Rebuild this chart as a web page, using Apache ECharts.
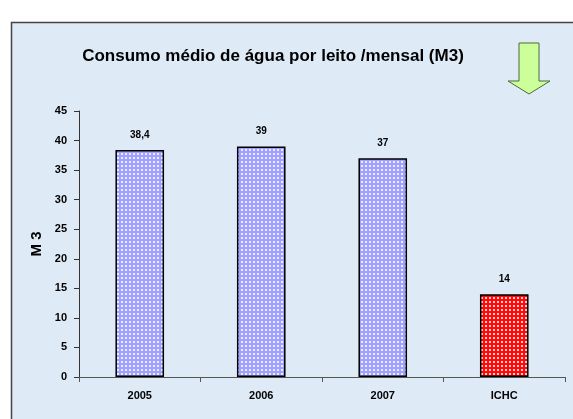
<!DOCTYPE html>
<html>
<head>
<meta charset="UTF-8">
<title>Consumo médio de água</title>
<script src="https://cdn.jsdelivr.net/npm/echarts@6/dist/echarts.min.js"></script>
<style>
  html, body { margin: 0; padding: 0; background: #fff; }
  #chart { width: 573px; height: 419px; }
</style>
</head>
<body>
<div id="chart"></div>
<script>
var categories = ['2005', '2006', '2007', 'ICHC'];
var values = [38.4, 39, 37, 14];
var barColors = ['#a0a0ff', '#a0a0ff', '#a0a0ff', '#ff0a0a'];
var yTicks = { min: 0, max: 45, interval: 5 };

// dotted fill like the old excel pattern
function dots(base) {
    var c = document.createElement('canvas');
    c.width = 4; c.height = 4;
    var g = c.getContext('2d');
    g.fillStyle = base;
    g.fillRect(0, 0, 4, 4);
    g.fillStyle = 'rgba(255,255,255,0.8)';
    g.fillRect(1, 1, 2, 2);
    return { image: c, repeat: 'repeat' };
}

var chart = echarts.init(document.getElementById('chart'), null, { renderer: 'canvas' });

chart.setOption({
    animation: false,
    backgroundColor: '#ffffff',
    title: {
        text: 'Consumo médio de água por leito /mensal (M3)',
        left: 268,
        textAlign: 'center',
        top: 43,
        textStyle: { fontFamily: 'Liberation Sans, sans-serif', fontWeight: 'bold', fontSize: 17, color: '#000' }
    },
    graphic: [
        {
            type: 'rect', z: -10, silent: true,
            shape: { x: 11.5, y: 22.5, width: 600, height: 420 },
            style: { fill: '#dfeaf7', stroke: '#444', lineWidth: 1.5 }
        },
        {
            type: 'polygon', z: 10, silent: true,
            shape: { points: [[519, 43], [539, 43], [539, 81], [550, 81], [529, 94], [508, 81], [519, 81]] },
            style: { fill: '#ccff99', stroke: '#4a6a3a', lineWidth: 1 }
        }
    ],
    grid: { left: 79, right: 8, top: 111, bottom: 42 },
    xAxis: {
        type: 'category',
        data: categories,
        axisLine: { lineStyle: { color: '#555', width: 1 } },
        axisTick: { show: true, length: 5, lineStyle: { color: '#555' } },
        axisLabel: {
            margin: 13,
            fontFamily: 'Liberation Sans', fontWeight: 'bold', fontSize: 11, color: '#000'
        }
    },
    yAxis: {
        type: 'value',
        min: yTicks.min, max: yTicks.max, interval: yTicks.interval,
        name: 'M 3',
        nameLocation: 'middle',
        nameRotate: 90,
        nameGap: 33,
        nameTextStyle: { fontFamily: 'Liberation Sans', fontWeight: 'bold', fontSize: 15, color: '#000' },
        axisLine: { show: true, lineStyle: { color: '#333', width: 1 } },
        axisTick: { show: true, length: 5, lineStyle: { color: '#333' } },
        splitLine: { show: false },
        axisLabel: {
            margin: 12,
            fontFamily: 'Liberation Sans', fontWeight: 'bold', fontSize: 11, color: '#000'
        }
    },
    series: [{
        type: 'bar',
        barWidth: '40%',
        data: values.map(function (v, i) {
            return { value: v, itemStyle: { color: dots(barColors[i]) } };
        }),
        itemStyle: { borderColor: '#000', borderWidth: 1.5 },
        label: {
            show: true,
            position: 'top',
            distance: 10,
            fontFamily: 'Liberation Sans', fontWeight: 'bold', fontSize: 10, color: '#000',
            formatter: function (p) { return String(p.value).replace('.', ','); }
        }
    }]
});
</script>
</body>
</html>
